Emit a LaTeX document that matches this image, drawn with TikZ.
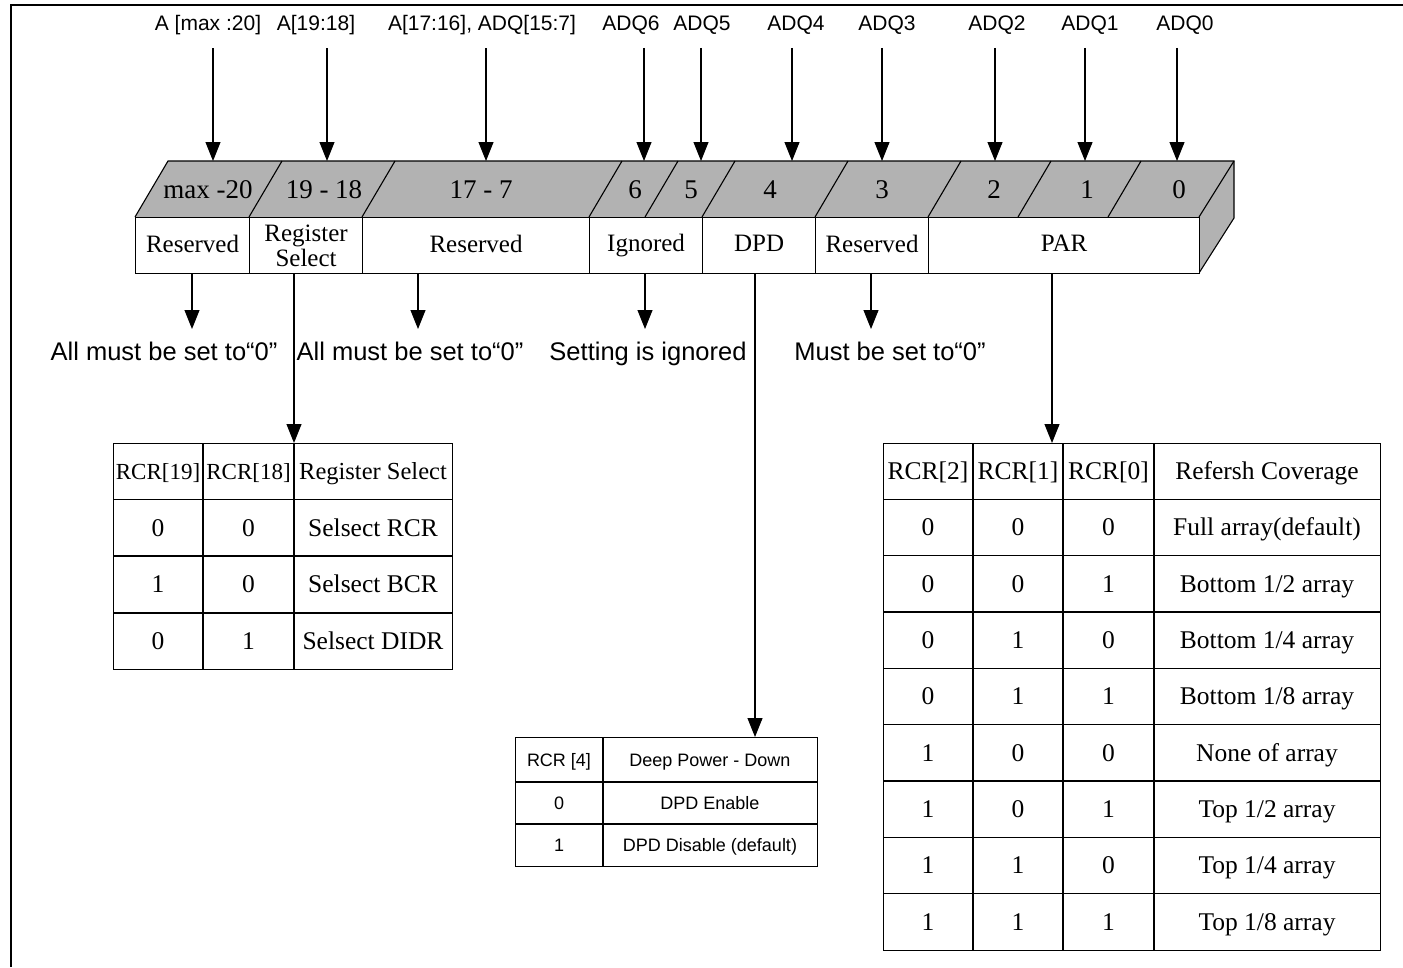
\documentclass[tikz,border=0pt]{standalone}
\usepackage{fontspec}
\setmainfont{Liberation Serif}
\newfontfamily\arialfont{Liberation Sans}
\usetikzlibrary{arrows.meta}
\newcommand\fieldstrut{\rule[-4pt]{0pt}{20pt}}
\begin{document}
\begin{tikzpicture}[x=1pt, y=-1pt, line width=1.1pt,
  sig/.style={font=\arialfont\fontsize{21}{24}\selectfont, inner sep=2pt},
  bitno/.style={font=\fontsize{27}{30}\selectfont},
  field/.style={draw, fill=white, align=center, inner sep=0pt, minimum height=56pt,
    anchor=north west, font=\fontsize{25}{25}\selectfont},
  note/.style={font=\arialfont\fontsize{25.5}{28}\selectfont, anchor=base},
  tabframe/.style={draw, inner sep=0pt, anchor=north west},
  tabtxt/.style={font=\fontsize{25.5}{28}\selectfont, text height=17pt, text depth=0pt},
  dpdtxt/.style={font=\arialfont\fontsize{18}{20}\selectfont, text height=13pt, text depth=0pt},
  arr/.style={-{Triangle[length=19pt,width=15pt]}}]
\useasboundingbox (0,0) rectangle (1403,967);
\draw[line width=2.8pt] (11,967) -- (11,5) -- (1403,5);
% register bar: grey top face and side face
\fill[black!30] (135,217) -- (168,161) -- (1234,161) -- (1234,218) -- (1199,273) -- (1199,217) -- cycle;
\draw (135,217) -- (168,161) -- (1234,161) -- (1234,218) -- (1199,273);
\draw (1199,217) -- (1234,161);
\foreach \x in {249,362,589,645,702,815,928,1018,1108}
  \draw (\x,217) -- ++(33,-56);
\foreach \x/\b [count=\i] in {208/max -20, 324/19 - 18, 481/17 - 7, 635/6, 691/5, 770/4, 882/3, 994/2, 1087/1, 1179/0}
  {\node[bitno] (bit\i) at (\x,190) {\b};}
\foreach \l/\r/\n/\t in {135/249/f0/Reserved, 249/362/f1/{Register\\Select}, 362/589/f2/Reserved,
    589/702/f3/Ignored, 702/815/f4/DPD, 815/928/f5/Reserved, 928/1199/f6/PAR}
  {\node[field, minimum width={(\r-\l)*1pt}] (\n) at (\l,217) {\fieldstrut\t};}
% address / data pins
\foreach \lx/\ax/\s [count=\i] in {208/213/{A [max :20]}, 316/327/{A[19:18]}, 482/486/{A[17:16], ADQ[15:7]},
    631/644/ADQ6, 702/701/ADQ5, 796/792/ADQ4, 887/882/ADQ3, 997/995/ADQ2, 1090/1085/ADQ1, 1185/1177/ADQ0}
  {\node[sig] (sig\i) at (\lx,25) {\s};
   \coordinate (top\i) at (\ax,161);
   \draw[arr] (sig\i.south -| top\i) ++(0,11) -- (top\i);}
% notes under the fields
\node[note] (n1) at (164,360) {All must be set to“0”};
\node[note] (n2) at (410,360) {All must be set to“0”};
\node[note] (n3) at (648,360) {Setting is ignored};
\node[note] (n4) at (890,360) {Must be set to“0”};
\foreach \f/\x [count=\i] in {f0/192, f2/418, f3/645, f5/871}
  {\coordinate (tip\i) at (\x,329);
   \draw[arr] (\f.south -| tip\i) -- (tip\i);}
% Register Select table
\begin{scope}[shift={(113,443)}]
\node[tabframe, minimum width=339pt, minimum height=226pt] (regtab) at (0,0) {};
\foreach \x in {90,181} \draw (\x,0) -- (\x,226);
\foreach \y in {56.5,113,170} \draw (0,\y) -- (339,\y);
\node[tabtxt, font=\fontsize{23}{26}\selectfont, inner sep=0pt] (rh1) at (45,28) {RCR[19]};
\node[tabtxt, font=\fontsize{23}{26}\selectfont, inner sep=0pt] (rh2) at (135.5,28) {RCR[18]};
\node[tabtxt, font=\fontsize{24.5}{26}\selectfont, inner sep=0pt] (rh3) at (260,28) {Register Select};
\foreach \a/\b/\t [count=\r] in {0/0/Selsect RCR, 1/0/Selsect BCR, 0/1/Selsect DIDR}
  {\node[tabtxt] (ra\r) at (45,28+56.5*\r) {\a};
   \node[tabtxt] (rb\r) at (135.5,28+56.5*\r) {\b};
   \node[tabtxt] (rc\r) at (260,28+56.5*\r) {\t};}
\coordinate (rs) at (181,0);
\end{scope}
% DPD table
\begin{scope}[shift={(515,737)}]
\node[tabframe, minimum width=302pt, minimum height=129pt] (dpdtab) at (0,0) {};
\draw (88,0) -- (88,129);
\foreach \y in {45,87} \draw (0,\y) -- (302,\y);
\node[dpdtxt] (dh1) at (44,22.5) {RCR [4]};
\node[dpdtxt] (dh2) at (195,22.5) {Deep Power - Down};
\node[dpdtxt] (da1) at (44,66) {0};
\node[dpdtxt] (db1) at (195,66) {DPD Enable};
\node[dpdtxt] (da2) at (44,108) {1};
\node[dpdtxt] (db2) at (195,108) {DPD Disable (default)};
\coordinate (dp) at (240,0);
\end{scope}
% PAR table
\begin{scope}[shift={(883,443)}]
\node[tabframe, minimum width=497pt, minimum height=507pt] (partab) at (0,0) {};
\foreach \x in {90,180,271} \draw (\x,0) -- (\x,507);
\foreach \r in {1,...,8} \draw (0,56.33*\r) -- (497,56.33*\r);
\node[tabtxt] (ph1) at (45,28) {RCR[2]};
\node[tabtxt] (ph2) at (135,28) {RCR[1]};
\node[tabtxt] (ph3) at (225.5,28) {RCR[0]};
\node[tabtxt] (ph4) at (384,28) {Refersh Coverage};
\foreach \a/\b/\c/\t [count=\r] in {0/0/0/{Full array(default)}, 0/0/1/{Bottom 1/2 array},
    0/1/0/{Bottom 1/4 array}, 0/1/1/{Bottom 1/8 array}, 1/0/0/{None of array},
    1/0/1/{Top 1/2 array}, 1/1/0/{Top 1/4 array}, 1/1/1/{Top 1/8 array}}
  {\node[tabtxt] (pa\r) at (45,28+56.33*\r) {\a};
   \node[tabtxt] (pb\r) at (135,28+56.33*\r) {\b};
   \node[tabtxt] (pc\r) at (225.5,28+56.33*\r) {\c};
   \node[tabtxt] (pd\r) at (384,28+56.33*\r) {\t};}
\coordinate (pr) at (169,0);
\end{scope}
% field to table connectors
\draw[arr] (f1.south -| rs) -- (rs);
\draw[arr] (f4.south -| dp) -- (dp);
\draw[arr] (f6.south -| pr) -- (pr);
\end{tikzpicture}
\end{document}
